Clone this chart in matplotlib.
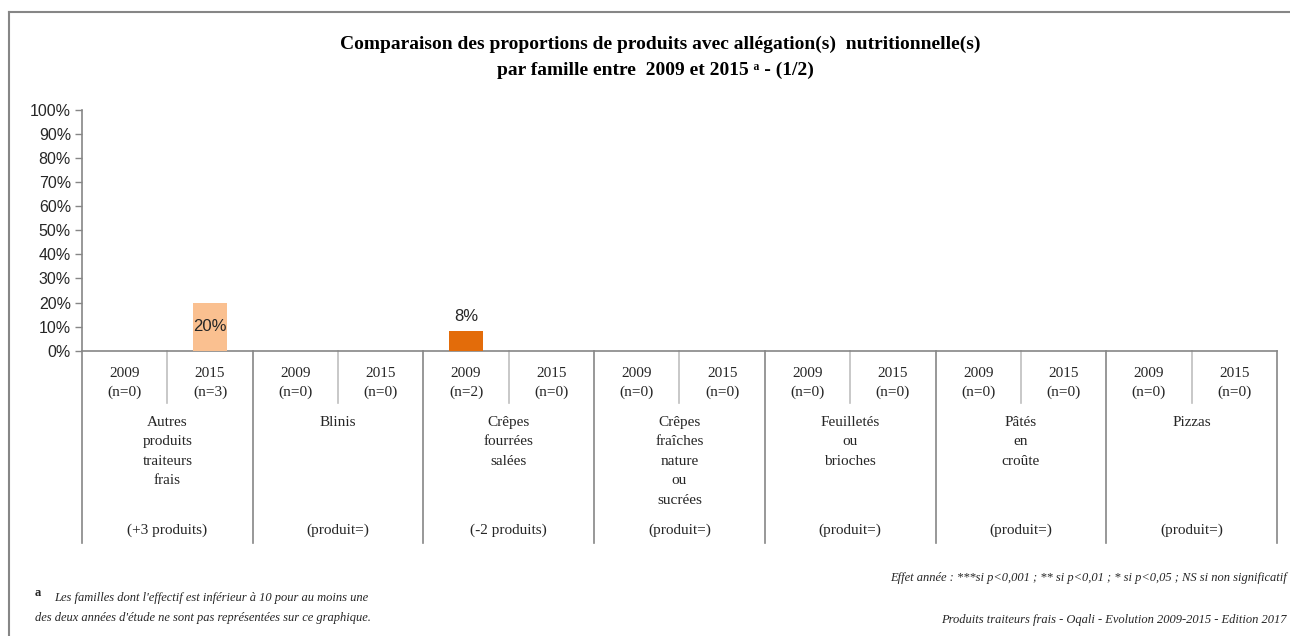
import matplotlib
matplotlib.use("Agg")
import matplotlib.pyplot as plt
from matplotlib.lines import Line2D
import numpy as np

# ---- data ----
families = ["Autres\nproduits\ntraiteurs\nfrais", "Blinis", "Crêpes\nfourrées\nsalées",
            "Crêpes\nfraîches\nnature\nou\nsucrées", "Feuilletés\nou\nbrioches",
            "Pâtés\nen\ncroûte", "Pizzas"]
changes = ["(+3 produits)", "(produit=)", "(-2 produits)", "(produit=)",
           "(produit=)", "(produit=)", "(produit=)"]
years = ["2009", "2015"]
n_2009 = [0, 0, 2, 0, 0, 0, 0]
n_2015 = [3, 0, 0, 0, 0, 0, 0]
pct_2009 = [0, 0, 0.08, 0, 0, 0, 0]
pct_2015 = [0.20, 0, 0, 0, 0, 0, 0]
yticks = [0, 0.1, 0.2, 0.3, 0.4, 0.5, 0.6, 0.7, 0.8, 0.9, 1.0]

col_2009 = "#E36C0A"
col_2015 = "#FAC090"
grey = "#868686"
txt = "#262626"

SERIF = ["Liberation Serif", "DejaVu Serif"]
SANS = ["Liberation Sans Narrow", "Liberation Sans", "DejaVu Sans"]

fig = plt.figure(figsize=(12.9, 6.36), dpi=100)
ax = fig.add_axes([82/1290, 1-350.7/636, (1277-82)/1290, (350.7-110)/636])

nf = len(families)
x09 = np.arange(nf) * 2 + 0.5
x15 = np.arange(nf) * 2 + 1.5
b1 = ax.bar(x09, pct_2009, width=0.4, color=col_2009, zorder=3)
b2 = ax.bar(x15, pct_2015, width=0.4, color=col_2015, zorder=3)

def lab(v):
    return f"{v*100:.0f}%" if v > 0 else ""

ax.bar_label(b1, labels=[lab(v) for v in pct_2009], padding=5, fontsize=12,
             family=SANS, color=txt)
ax.bar_label(b2, labels=[lab(v) for v in pct_2015], label_type="center",
             fontsize=12, family=SANS, color=txt)

ax.set_xlim(0, 2 * nf)
ax.set_ylim(0, 1)
ax.set_yticks(yticks)
ax.set_yticklabels([f"{int(round(t*100))}%" for t in yticks], family=SANS,
                   fontsize=11.5, color=txt)
ax.tick_params(axis="y", length=5, color=grey, width=1, pad=3)
ax.set_xticks([])
for s in ["top", "right"]:
    ax.spines[s].set_visible(False)
for s in ["left", "bottom"]:
    ax.spines[s].set_color(grey)
    ax.spines[s].set_linewidth(1.2)

tr = ax.get_xaxis_transform()
px = 0.72  # points per pixel at 100 dpi
axh = 350.7 - 110
# divider lines
for i in range(2 * nf + 1):
    depth = 192 if i % 2 == 0 else 52
    ax.plot([i, i], [0, -depth / axh], transform=tr, color=grey if i % 2 == 0 else "#BFBFBF",
            lw=1.2, clip_on=False)

for i in range(nf):
    for xx, y, n in ((x09[i], years[0], n_2009[i]), (x15[i], years[1], n_2015[i])):
        ax.annotate(f"{y}\n(n={n})", xy=(xx, 0), xycoords=tr, xytext=(0, -32 * px),
                    textcoords="offset points", ha="center", va="center",
                    fontsize=11, family=SERIF, color=txt, linespacing=1.5)
    ax.annotate(families[i], xy=(2 * i + 1, 0), xycoords=tr, xytext=(0, -65 * px),
                textcoords="offset points", ha="center", va="top",
                fontsize=11, family=SERIF, color=txt, linespacing=1.65)
    ax.annotate(changes[i], xy=(2 * i + 1, 0), xycoords=tr, xytext=(0, -180 * px),
                textcoords="offset points", ha="center", va="center",
                fontsize=11, family=SERIF, color=txt)

# title
fig.text(660/1290, 1-44/636, "Comparaison des proportions de produits avec allégation(s)  nutritionnelle(s)",
         ha="center", va="center", fontsize=14, fontweight="bold", family=SERIF, color="#000000")
fig.text(655/1290, 1-70/636, "par famille entre  2009 et 2015 ᵃ - (1/2)",
         ha="center", va="center", fontsize=14, fontweight="bold", family=SERIF, color="#000000")

# footnotes
fig.text(35/1290, 1-593/636, "a", ha="left", va="center", fontsize=9, fontweight="bold",
         family=SERIF, color=txt)
fig.text(54/1290, 1-598/636, "Les familles dont l'effectif est inférieur à 10 pour au moins une",
         ha="left", va="center", fontsize=9, style="italic", family=SERIF, color=txt)
fig.text(35/1290, 1-618/636, "des deux années d'étude ne sont pas représentées sur ce graphique.",
         ha="left", va="center", fontsize=9, style="italic", family=SERIF, color=txt)
fig.text(1287/1290, 1-578/636,
         "Effet année : ***si p<0,001 ; ** si p<0,01 ; * si p<0,05 ; NS si non significatif",
         ha="right", va="center", fontsize=9, style="italic", family=SERIF, color=txt)
fig.text(1287/1290, 1-620/636,
         "Produits traiteurs frais - Oqali - Evolution 2009-2015 - Edition 2017",
         ha="right", va="center", fontsize=9, style="italic", family=SERIF, color=txt)

# outer border (left and top)
fig.add_artist(Line2D([8.5/1290, 8.5/1290], [0, 1-12/636], transform=fig.transFigure,
                      color=grey, lw=1.5))
fig.add_artist(Line2D([8.5/1290, 1], [1-12/636, 1-12/636], transform=fig.transFigure,
                      color=grey, lw=1.5))

fig.savefig("out.png", dpi=100)
